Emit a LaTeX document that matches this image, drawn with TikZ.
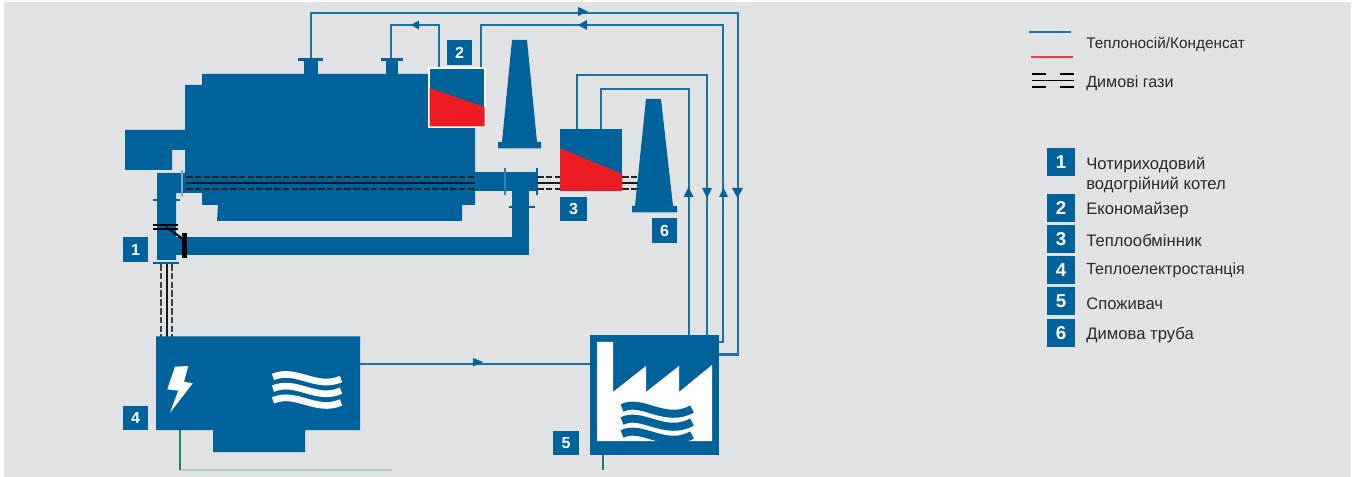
\documentclass[tikz,border=0pt]{standalone}
\usepackage{fontspec}
\setmainfont{Liberation Sans}
\definecolor{bosch}{HTML}{00629A}
\definecolor{bgc}{HTML}{E1E2E4}
\definecolor{flame}{HTML}{ED1C24}
\definecolor{txt}{HTML}{2A2A2A}
\definecolor{grn}{HTML}{1F7F6B}
\definecolor{lgrn}{HTML}{A9CFC2}
\definecolor{legblue}{HTML}{1A75B0}
\tikzset{
 solidblue/.style={fill=bosch,draw=none},
 pipe/.style={draw=bosch!90!white,line width=1.6pt,line join=miter},
 gasdash/.style={draw=black!85,line width=1.6pt,dash pattern=on 5pt off 1.6pt},
 gassolid/.style={draw=black!90,line width=1.5pt},
 tag/.style={fill=bosch,text=white,font=\bfseries\fontsize{12}{12}\selectfont,inner sep=0pt,minimum width=19pt,minimum height=18.5pt},
 ltag/.style={fill=bosch,text=white,font=\bfseries\fontsize{14}{14}\selectfont,inner sep=0pt,minimum width=21pt,minimum height=21pt},
 ltext/.style={text=txt,anchor=west,inner sep=0pt,font=\fontsize{12.5}{15}\selectfont,align=left},
 white wave/.style={draw=white,line width=5pt},
 blue wave/.style={draw=bosch,line width=6pt},
}
\begin{document}
\begin{tikzpicture}[x=0.75pt,y=-0.75pt]
\useasboundingbox (0,0) rectangle (1357,477);
\fill[white] (0,0) rectangle (1357,477);
\fill[bgc] (4,2) rectangle (1351,477);
% pipes
\coordinate (n1) at (311,62);
\coordinate (n2) at (391,62);
\coordinate (eR) at (481,68);
\coordinate (hL) at (577,129);
\coordinate (hR) at (601,129);
\draw[pipe] (n1) -- (311,13) -- (738,13) -- (738,354.5) -- (719,354.5);
\draw[pipe] (n2) -- (391,25) -- (439,25) -- (439,68);
\draw[pipe] (eR) -- (481,25) -- (723,25) -- (723,342) -- (719,342);
\draw[pipe] (hL) -- (577,75) -- (707,75) -- (707,335);
\draw[pipe] (hR) -- (601,89) -- (689,89) -- (689,335);
\draw[pipe] (360,364) -- (590,364);
% arrow heads
\fill[bosch] (411,25) -- (419,20.5) -- (419,29.5) -- cycle;
\fill[bosch] (588,11.5) -- (578,7) -- (578,16) -- cycle;
\fill[bosch] (578,25) -- (587,20) -- (587,30) -- cycle;
\fill[bosch] (483,362) -- (473,358) -- (473,366.5) -- cycle;
\fill[bosch] (688.5,187) -- (683.5,197) -- (693.5,197) -- cycle;
\fill[bosch] (707,198) -- (702,188) -- (712,188) -- cycle;
\fill[bosch] (723.5,188) -- (719,197) -- (728,197) -- cycle;
\fill[bosch] (737.5,198) -- (732,188) -- (743,188) -- cycle;
% green
\draw[lgrn,line width=1pt] (180,470) -- (392,470);
\draw[grn,line width=1.2pt] (180,430) -- (180,470);
\draw[grn,line width=1.2pt] (603,455) -- (603,470);
% boiler
\fill[solidblue] (202,74) -- (475,74) -- (475,205) -- (462,205) -- (462,221) -- (217,221) -- (218,205) -- (202,205) -- (202,193) -- (185,193) -- (185,85) -- (202,85) -- cycle;
% burner
\fill[solidblue] (125,130) -- (185,130) -- (185,150) -- (172,150) -- (172,170) -- (125,170) -- cycle;
% rear duct
\fill[solidblue] (157,173) -- (185,173) -- (185,193) -- (176,193) -- (176,260) -- (157,260) -- cycle;
\draw[bosch!55!white,line width=0.9pt] (182,170) -- (182,196);
\fill[solidblue] (153,199) rectangle (159,201);
\fill[solidblue] (175,199) rectangle (180,201);
\fill[solidblue] (176,237) rectangle (529,255);
\fill[solidblue] (512,191) rectangle (529,255);
\fill[solidblue] (475,172) rectangle (537,191);
\fill[bosch!80!white] (504,168) rectangle (506,195);
\fill[solidblue] (535.5,168) rectangle (537.5,195);
\fill[solidblue] (509,206.5) rectangle (535,208);
\fill[solidblue] (153,262.5) rectangle (179,264);
% nozzles
\fill[solidblue] (304,60) rectangle (318,75);
\fill[solidblue] (298,58.5) rectangle (323,61);
\fill[solidblue] (386,60) rectangle (398,75);
\fill[solidblue] (381,58.5) rectangle (403,61);
% gas lines
\draw[gasdash] (186,177) -- (475,177);
\draw[gassolid] (186,183) -- (475,183);
\draw[gasdash] (186,189) -- (475,189);
\draw[gasdash] (537,177) -- (560,177);
\draw[gassolid] (537,183) -- (560,183);
\draw[gasdash] (537,189) -- (560,189);
\draw[gasdash] (622,177) -- (640,177);
\draw[gassolid] (622,183) -- (640,183);
\draw[gasdash] (622,189) -- (640,189);
\draw[gasdash,draw=black!75] (161,264) -- (161,339);
\draw[gassolid] (166.5,264) -- (166.5,339);
\draw[gasdash,draw=black!75] (172,264) -- (172,339);
% dampers
\draw[black,line width=1.5pt] (153,225) -- (178,225);
\draw[black,line width=1.5pt] (153,229) -- (178,229);
\draw[black,line width=1.5pt] (166,227) -- (183,239);
\fill[black] (182,233) rectangle (187,258);
% stacks
\fill[solidblue] (512,40) -- (527,40) -- (537,142) -- (541,142) -- (541,148.5) -- (498,148.5) -- (498,142) -- (502,142) -- cycle;
\fill[solidblue] (646,99) -- (661,99) -- (673,206) -- (677,206) -- (677,212.5) -- (632,212.5) -- (632,206) -- (635,206) -- cycle;
% economiser
\node[name=eco,draw=white,line width=1.5pt,fill=bosch,minimum width=42.5pt,minimum height=44pt,inner sep=0pt,outer sep=0pt,anchor=north west] at (428.5,68.5) {};
\fill[flame] (429.5,88) -- (484.5,107) -- (484.5,126.5) -- (429.5,126.5) -- cycle;
% heat exchanger
\node[name=hx,fill=bosch,minimum width=46.5pt,minimum height=46.5pt,inner sep=0pt,outer sep=0pt,anchor=north west] at (560,129) {};
\fill[flame] (560,148) -- (622,174) -- (622,191) -- (560,191) -- cycle;
% plant 4
\fill[solidblue] (156,336.5) -- (360,336.5) -- (360,430) -- (305,430) -- (305,452) -- (213,452) -- (213,430) -- (156,430) -- cycle;
\fill[white] (175,366.7) -- (188.3,366) -- (184,381.7) -- (192.7,383.3) -- (170,412.7) -- (178.3,390.7) -- (167.3,389.3) -- cycle;
\foreach \d in {0,11.7,23.4}{
 \draw[white wave] (273,377+\d) .. controls (296,367+\d) and (316,390+\d) .. (341,379+\d);
}
% factory 5
\fill[solidblue] (590,335) rectangle (719,455);
\fill[white] (597,342) -- (613,342) -- (613,392) -- (646,366) -- (646,392) -- (679,366) -- (679,392) -- (712,365) -- (712,441) -- (597,441) -- cycle;
\foreach \d in {0,13,26}{
 \draw[blue wave] (622,408+\d) .. controls (642,398+\d) and (665,424+\d) .. (692,409+\d);
}
% tags
\node[tag] (t1) at (135.5,249.5) {1};
\node[tag] (t2) at (459.5,52.5) {2};
\node[tag,minimum width=20pt] (t3) at (573.5,209) {3};
\node[tag] (t4) at (135.5,418) {4};
\node[tag] (t5) at (566,443) {5};
\node[tag] (t6) at (664.5,230.5) {6};
% legend
\draw[legblue,line width=1.5pt] (1029,32) -- (1071,32);
\draw[flame!85!white,line width=1.5pt] (1031,57) -- (1073,57);
\node[ltext,font=\fontsize{11.5}{14}\selectfont] (lg1) at (1086,44.5) {Теплоносій/Конденсат};
\draw[black,line width=1.5pt] (1032,74) -- (1046,74) (1060,74) -- (1074,74);
\draw[black,line width=1pt] (1032,80.5) -- (1074,80.5);
\draw[black,line width=1.5pt] (1032,87) -- (1046,87) (1060,87) -- (1074,87);
\node[ltext,font=\fontsize{12.1}{14}\selectfont] (lg2) at (1086,83.5) {Димові гази};
\node[ltag] (l1) at (1061,162) {1};
\node[ltag] (l2) at (1061,208) {2};
\node[ltag] (l3) at (1061,239) {3};
\node[ltag] (l4) at (1061,270) {4};
\node[ltag] (l5) at (1061,301) {5};
\node[ltag] (l6) at (1061,333) {6};
\node[ltext,anchor=north west] (x1) at (1086,157) {Чотириходовий\\водогрійний котел};
\node[ltext] (x2) at (1086,210) {Економайзер};
\node[ltext] (x3) at (1086,240.5) {Теплообмінник};
\node[ltext,font=\fontsize{12.05}{15}\selectfont] (x4) at (1086,270) {Теплоелектростанція};
\node[ltext] (x5) at (1086,304) {Споживач};
\node[ltext] (x6) at (1086,335) {Димова труба};
\end{tikzpicture}
\end{document}
